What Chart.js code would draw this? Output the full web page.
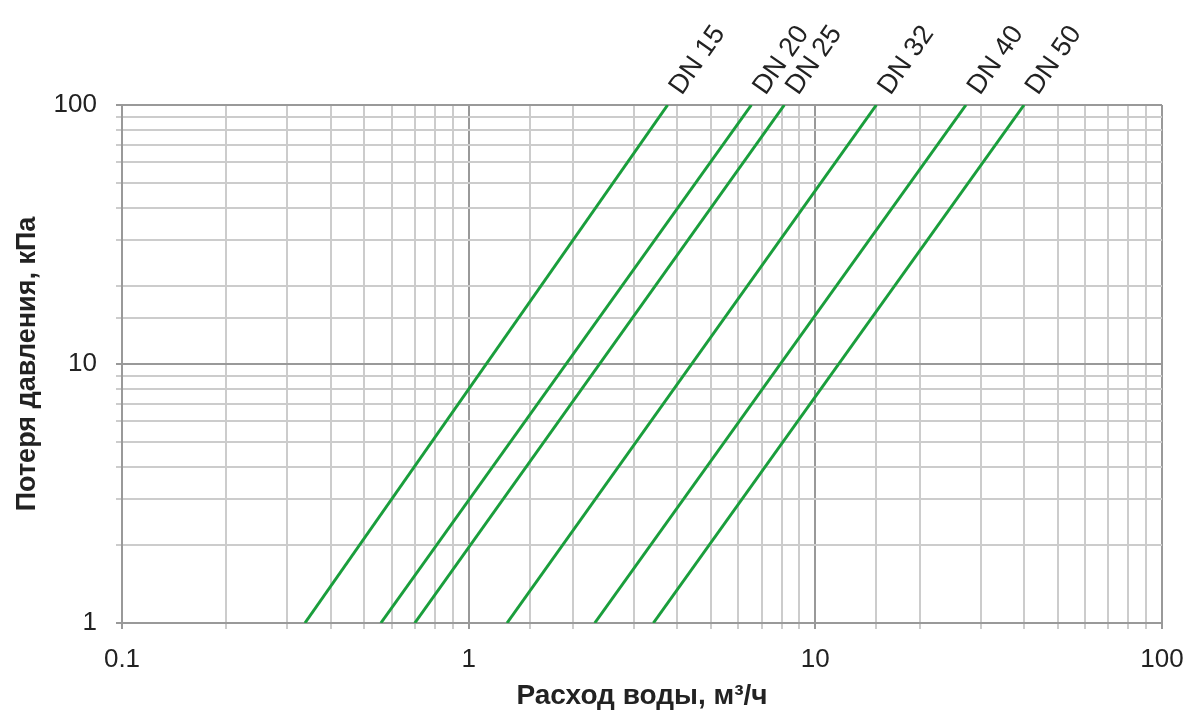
<!DOCTYPE html>
<html>
<head>
<meta charset="utf-8">
<script src="https://cdn.jsdelivr.net/npm/chart.js@4/dist/chart.umd.min.js"></script>
<style>
  html, body { margin: 0; padding: 0; background: #fff; }
  #wrap { width: 1191px; height: 713px; }
</style>
</head>
<body>
<div id="wrap"><canvas id="lossChart"></canvas></div>
<script>
const seriesNames = ['DN 15', 'DN 20', 'DN 25', 'DN 32', 'DN 40', 'DN 50'];
const flowAt1kPa = [0.337, 0.558, 0.699, 1.29, 2.31, 3.41];
const flowAt100kPa = [3.75, 6.54, 8.14, 15.0, 27.2, 40.0];
const pressureEnds = [1, 100];
const xRange = [0.1, 100];
const yRange = [1, 100];

const isDecade = v => Math.abs(Math.log10(v) - Math.round(Math.log10(v))) < 1e-6;
const FONT = '"Liberation Sans", Arial, sans-serif';

const datasets = seriesNames.map((name, i) => ({
    label: name,
    data: [
        { x: flowAt1kPa[i], y: pressureEnds[0] },
        { x: flowAt100kPa[i], y: pressureEnds[1] }
    ],
    borderColor: '#1a9e3c',
    borderWidth: 3,
    pointRadius: 0,
    tension: 0
}));

// labels rotated along the top end of each line
const lineLabels = {
    id: 'lineLabels',
    afterDatasetsDraw(chart) {
        const ctx = chart.ctx;
        ctx.save();
        ctx.font = '27px ' + FONT;
        ctx.fillStyle = '#222';
        ctx.textAlign = 'left';
        ctx.textBaseline = 'alphabetic';
        chart.data.datasets.forEach((ds, i) => {
            const pt = chart.getDatasetMeta(i).data[1];
            ctx.save();
            ctx.translate(pt.x + 14, pt.y - 9);
            ctx.rotate(-55 * Math.PI / 180);
            ctx.fillText(ds.label, 0, 0);
            ctx.restore();
        });
        ctx.restore();
    }
};

const gridColor = c => (c.tick && isDecade(c.tick.value)) ? '#999999' : '#cccccc';

new Chart(document.getElementById('lossChart'), {
    type: 'line',
    data: { datasets: datasets },
    plugins: [lineLabels],
    options: {
        responsive: true,
        maintainAspectRatio: false,
        animation: false,
        layout: { padding: { top: 105, right: 29, left: 0, bottom: 0 } },
        plugins: { legend: { display: false }, tooltip: { enabled: false } },
        scales: {
            x: {
                type: 'logarithmic',
                min: xRange[0],
                max: xRange[1],
                afterFit(scale) {
                    scale.height = 90;
                    scale.paddingLeft = 0;
                    scale.paddingRight = 0;
                },
                grid: { color: gridColor, tickColor: gridColor, lineWidth: 2, tickLength: 6 },
                border: { color: '#999999', width: 2 },
                ticks: {
                    autoSkip: false,
                    maxRotation: 0,
                    padding: 15,
                    color: '#222',
                    font: { family: FONT, size: 26 },
                    callback: v => isDecade(v) ? String(v) : ''
                },
                title: {
                    display: true,
                    text: 'Расход воды, м³/ч',
                    color: '#222',
                    font: { family: FONT, size: 28, weight: 'bold' },
                    padding: { top: 0, bottom: 0 }
                }
            },
            y: {
                type: 'logarithmic',
                min: yRange[0],
                max: yRange[1],
                afterFit(scale) {
                    scale.width = 122;
                    scale.paddingTop = 0;
                    scale.paddingBottom = 0;
                },
                grid: { color: gridColor, tickColor: gridColor, lineWidth: 2, tickLength: 6 },
                border: { color: '#999999', width: 2 },
                ticks: {
                    autoSkip: false,
                    padding: 19,
                    color: '#222',
                    font: { family: FONT, size: 26 },
                    callback: v => isDecade(v) ? String(v) : ''
                },
                title: {
                    display: true,
                    text: 'Потеря давления, кПа',
                    color: '#222',
                    font: { family: FONT, size: 27, weight: 'bold' },
                    padding: { top: 11, bottom: 0 }
                }
            }
        }
    }
});
</script>
</body>
</html>
